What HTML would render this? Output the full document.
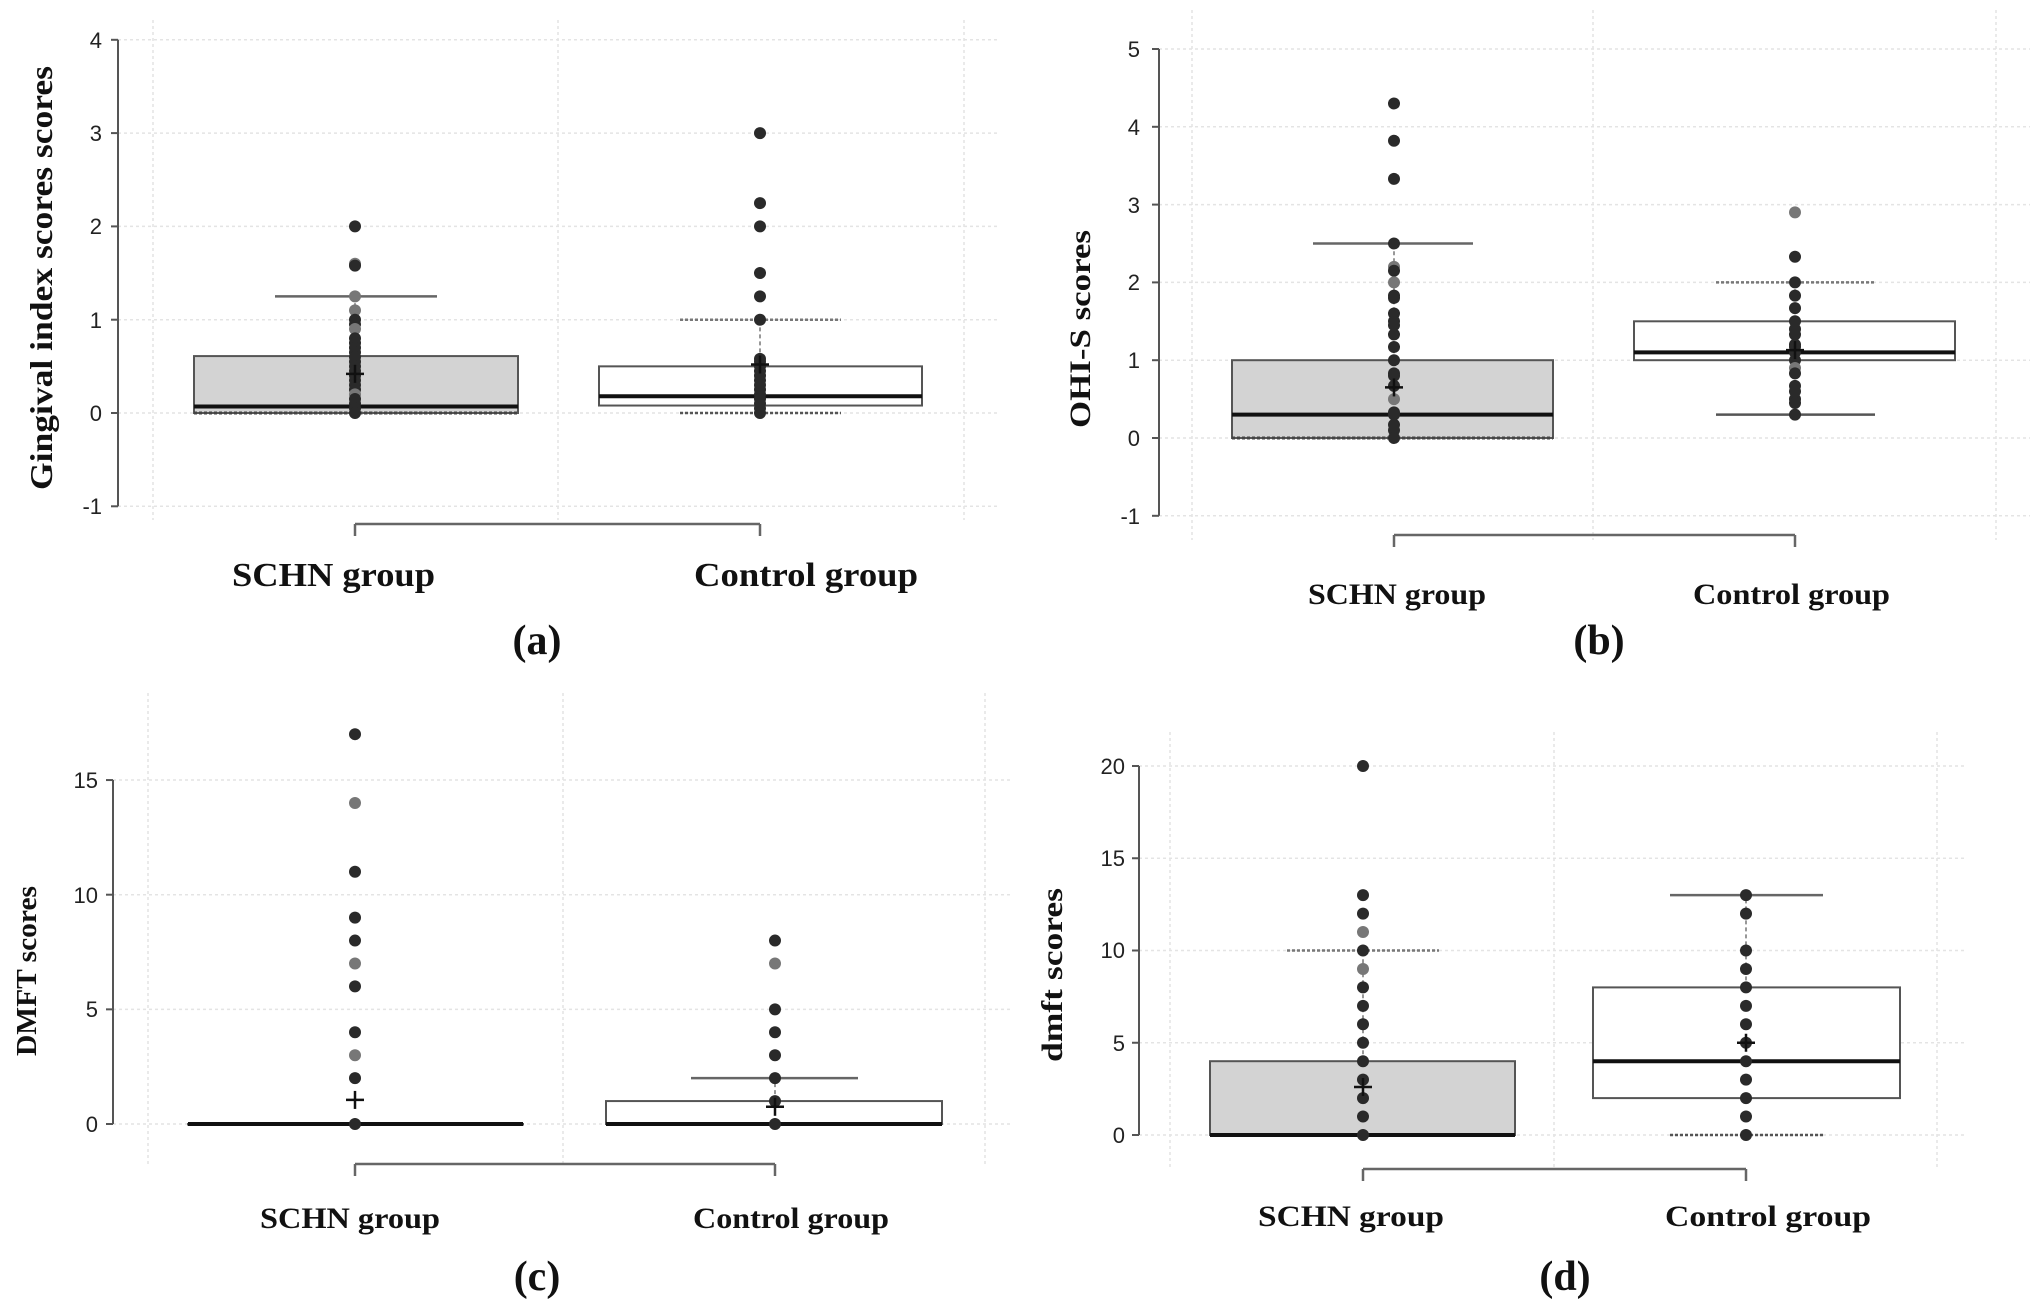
<!DOCTYPE html>
<html><head><meta charset="utf-8"><style>
html,body{margin:0;padding:0;background:#fff;overflow:hidden}
svg{display:block}
.tk{font-family:"Liberation Sans Narrow","Liberation Sans",sans-serif;font-size:22px;fill:#222;text-anchor:end}
.gl{font-family:"Liberation Serif",serif;font-weight:bold;fill:#111}
.yt{font-family:"Liberation Serif",serif;font-weight:bold;fill:#111}
.pl{font-family:"Liberation Serif",serif;font-weight:bold;fill:#111;font-size:42px;text-anchor:middle}
</style></head><body>
<svg id="s" width="2030" height="1302" viewBox="0 0 2030 1302" xmlns="http://www.w3.org/2000/svg">
<g id="g"></g>
<text class="tk" x="102" y="48">4</text><text class="tk" x="102" y="141">3</text><text class="tk" x="102" y="234">2</text><text class="tk" x="102" y="328">1</text><text class="tk" x="102" y="421">0</text><text class="tk" x="102" y="514">-1</text>
<text class="yt" font-size="32" transform="translate(52,278) rotate(-90)" text-anchor="middle" textLength="424" lengthAdjust="spacingAndGlyphs">Gingival index scores scores</text>
<text class="gl" font-size="34" x="232" y="586" textLength="203" lengthAdjust="spacingAndGlyphs">SCHN group</text>
<text class="gl" font-size="34" x="694" y="586" textLength="224" lengthAdjust="spacingAndGlyphs">Control group</text>
<text class="pl" x="537" y="654">(a)</text>
<text class="tk" x="1140" y="57">5</text><text class="tk" x="1140" y="135">4</text><text class="tk" x="1140" y="213">3</text><text class="tk" x="1140" y="290">2</text><text class="tk" x="1140" y="368">1</text><text class="tk" x="1140" y="446">0</text><text class="tk" x="1140" y="524">-1</text>
<text class="yt" font-size="30" transform="translate(1090,329) rotate(-90)" text-anchor="middle" textLength="198" lengthAdjust="spacingAndGlyphs">OHI-S scores</text>
<text class="gl" font-size="30" x="1308" y="604" textLength="178" lengthAdjust="spacingAndGlyphs">SCHN group</text>
<text class="gl" font-size="30" x="1693" y="604" textLength="197" lengthAdjust="spacingAndGlyphs">Control group</text>
<text class="pl" x="1599" y="654">(b)</text>
<text class="tk" x="98" y="788">15</text><text class="tk" x="98" y="903">10</text><text class="tk" x="98" y="1017">5</text><text class="tk" x="98" y="1132">0</text>
<text class="yt" font-size="28" transform="translate(36,971) rotate(-90)" text-anchor="middle" textLength="170" lengthAdjust="spacingAndGlyphs">DMFT scores</text>
<text class="gl" font-size="30" x="260" y="1228" textLength="180" lengthAdjust="spacingAndGlyphs">SCHN group</text>
<text class="gl" font-size="30" x="693" y="1228" textLength="196" lengthAdjust="spacingAndGlyphs">Control group</text>
<text class="pl" x="537" y="1290">(c)</text>
<text class="tk" x="1125" y="774">20</text><text class="tk" x="1125" y="866">15</text><text class="tk" x="1125" y="958">10</text><text class="tk" x="1125" y="1051">5</text><text class="tk" x="1125" y="1143">0</text>
<text class="yt" font-size="30" transform="translate(1062,975) rotate(-90)" text-anchor="middle" textLength="174" lengthAdjust="spacingAndGlyphs">dmft scores</text>
<text class="gl" font-size="30" x="1258" y="1226" textLength="186" lengthAdjust="spacingAndGlyphs">SCHN group</text>
<text class="gl" font-size="30" x="1665" y="1226" textLength="206" lengthAdjust="spacingAndGlyphs">Control group</text>
<text class="pl" x="1565" y="1290">(d)</text>
</svg>
<script>
var g=document.getElementById('g'),NS='http://www.w3.org/2000/svg';
function el(t,a){var e=document.createElementNS(NS,t);for(var k in a)e.setAttribute(k,a[k]);g.appendChild(e);return e;}
function ln(x1,y1,x2,y2,c,w,d){var a={x1:x1,y1:y1,x2:x2,y2:y2,stroke:c,'stroke-width':w};if(d)a['stroke-dasharray']=d;el('line',a);}
function panel(P){
 var Y=function(v){return P.y0-v*P.u;};
 P.gx.forEach(function(x){ln(x,P.gt,x,P.gb,'#e4e4e4',1.5,'3,3');});
 P.ticks.forEach(function(v){ln(P.ax,Y(v),P.gr,Y(v),'#e4e4e4',1.5,'3,3');ln(P.ax-7,Y(v),P.ax,Y(v),'#555',2);});
 ln(P.ax,Y(P.ticks[P.ticks.length-1]),P.ax,Y(P.ticks[0]),'#555',2);
 ln(P.c[0],P.br,P.c[1],P.br,'#666',2.5);ln(P.c[0],P.br,P.c[0],P.br+12,'#666',2.5);ln(P.c[1],P.br,P.c[1],P.br+12,'#666',2.5);
 P.b.forEach(function(B,i){
  var c=P.c[i];
  el('rect',{x:B.x0,y:Y(B.q3),width:B.x1-B.x0,height:Math.max(Y(B.q1)-Y(B.q3),0.5),fill:i==0?'#d3d3d3':'#fff',stroke:'#555','stroke-width':2});
  ln(c,Y(B.q3),c,Y(B.hi),'#777',1.5,'4,3');
  ln(B.w0,Y(B.hi),B.w1,Y(B.hi),B.hs?'#666':'#777',2.5,B.hs?null:'3,2');
  ln(B.w0,Y(B.lo),B.w1,Y(B.lo),'#555',2.5,B.ls?null:'3,2');
  if(B.lo==B.q1) ln(B.x0,Y(B.q1),B.x1,Y(B.q1),'#444',3,'3,2');
  ln(B.x0,Y(B.md),B.x1,Y(B.md),'#111',4);
  B.p.forEach(function(v){var gray=(typeof v=='string');v=parseFloat(v);el('circle',{cx:c,cy:Y(v),r:6,fill:gray?'#777':'#2a2a2a'});});
  ln(c-9,Y(B.mn),c+9,Y(B.mn),'#111',2.5);ln(c,Y(B.mn)-9,c,Y(B.mn)+9,'#111',2.5);
 });
}
panel({y0:413,u:93.3,ax:118,gr:997,gt:20,gb:520,gx:[153,558,964],ticks:[-1,0,1,2,3,4],br:524,c:[355,760],b:[
 {x0:194,x1:518,q1:0,q3:0.61,md:0.07,hi:1.25,lo:0,w0:275,w1:437,hs:1,mn:0.42,p:[2,'1.6',1.58,'1.25','1.1',1.0,0.95,'0.9',0.8,0.75,0.7,0.65,0.6,0.55,0.5,0.45,0.4,0.35,0.3,0.25,'0.2',0.15,0.1,0.05,0]},
 {x0:599,x1:922,q1:0.08,q3:0.5,md:0.18,hi:1.0,lo:0,w0:680,w1:841,mn:0.52,p:[3,2.25,2.0,1.5,1.25,1.0,0.58,0.55,0.5,0.45,0.4,0.35,0.3,0.25,0.2,0.15,0.1,0.05,0]}]});
panel({y0:438,u:77.8,ax:1159,gr:2030,gt:10,gb:540,gx:[1192,1593,1996],ticks:[-1,0,1,2,3,4,5],br:535,c:[1394,1795],b:[
 {x0:1232,x1:1553,q1:0,q3:1,md:0.3,hi:2.5,lo:0,w0:1313,w1:1473,hs:1,mn:0.65,p:[4.3,3.82,3.33,2.5,'2.2',2.15,'2.0',1.83,1.8,1.6,1.5,1.45,1.33,1.17,1.0,0.83,0.8,0.67,'0.5',0.33,0.3,0.17,0.1,0]},
 {x0:1634,x1:1955,q1:1,q3:1.5,md:1.1,hi:2.0,lo:0.3,w0:1716,w1:1875,ls:1,mn:1.13,p:['2.9',2.33,2.0,1.83,1.67,1.5,1.4,1.33,1.2,1.17,1.1,1.0,'0.9',0.83,0.67,0.6,0.5,0.45,0.3]}]});
panel({y0:1124,u:22.93,ax:113,gr:1010,gt:693,gb:1166,gx:[148,563,985],ticks:[0,5,10,15],br:1164,c:[355,775],b:[
 {x0:188,x1:523,q1:0,q3:0,md:0,hi:0,lo:0,w0:355,w1:355,mn:1.05,p:[17,'14',11,9,8,'7',6,4,'3',2,0]},
 {x0:606,x1:942,q1:0,q3:1,md:0,hi:2,lo:0,w0:691,w1:858,hs:1,mn:0.75,p:[8,'7',5,4,3,2,1,0]}]});
panel({y0:1135,u:18.45,ax:1139,gr:1966,gt:732,gb:1170,gx:[1170,1554,1937],ticks:[0,5,10,15,20],br:1169,c:[1363,1746],b:[
 {x0:1210,x1:1515,q1:0,q3:4,md:0,hi:10,lo:0,w0:1287,w1:1439,mn:2.6,p:[20,13,12,'11',10,'9',8,7,6,5,4,3,2,1,0]},
 {x0:1593,x1:1900,q1:2,q3:8,md:4,hi:13,lo:0,w0:1670,w1:1823,hs:1,mn:5,p:[13,12,10,9,8,7,6,5,4,3,2,1,0]}]});
</script>
</body></html>
